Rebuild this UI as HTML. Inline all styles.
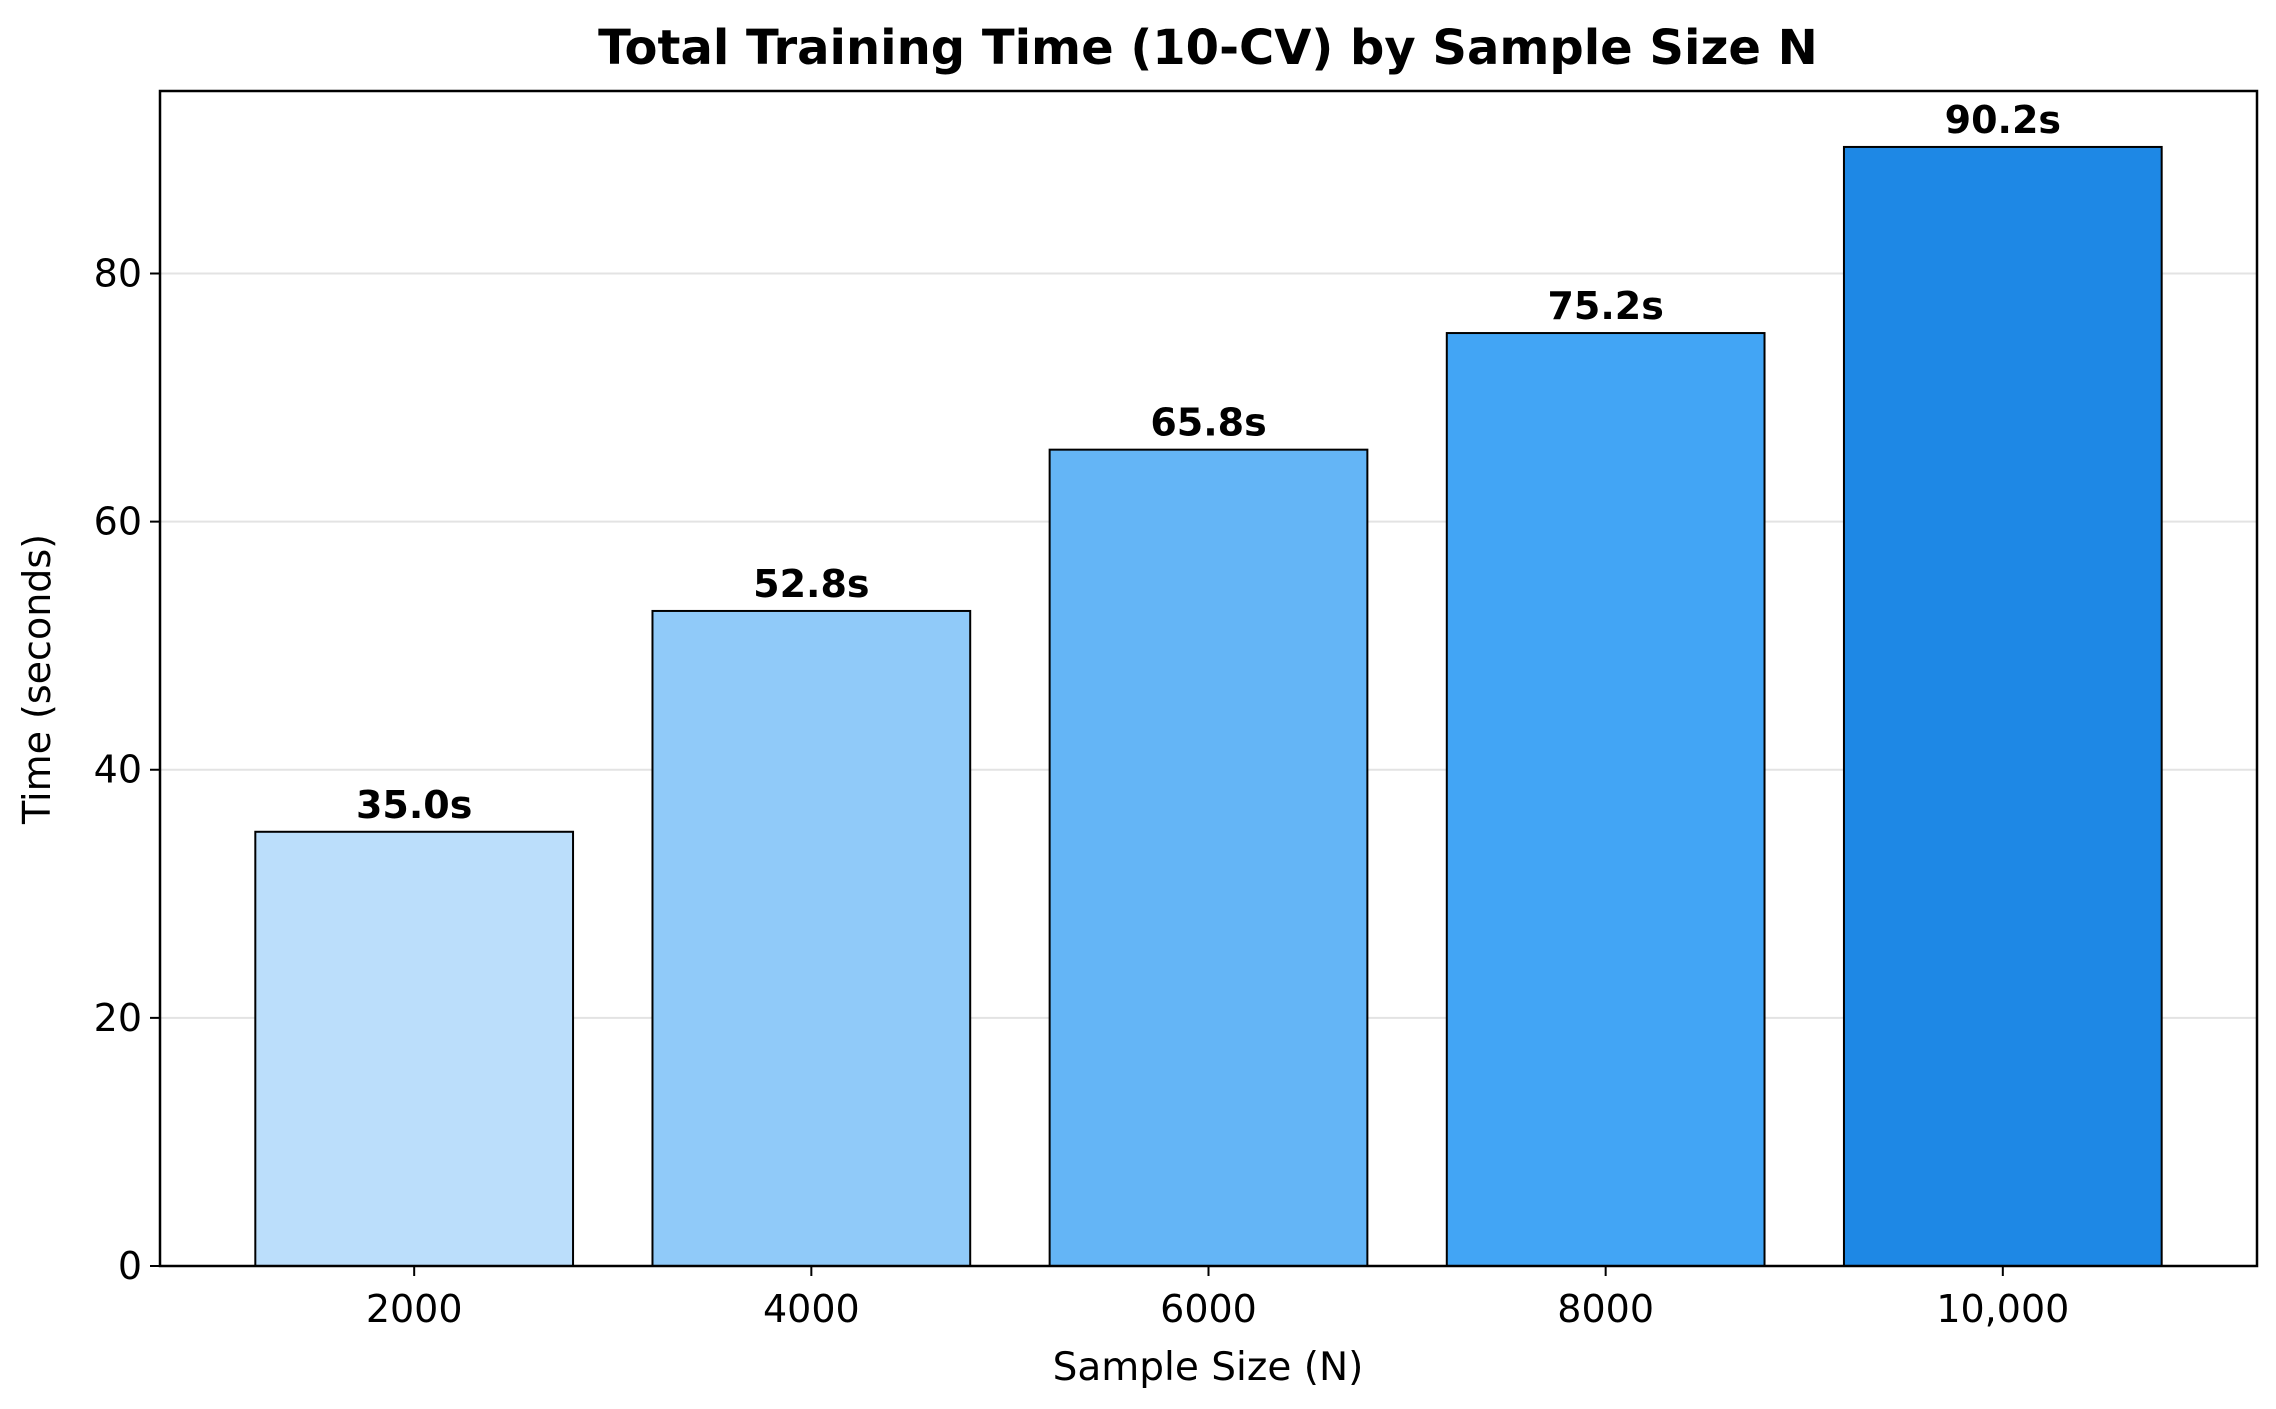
<!DOCTYPE html>
<html><head><meta charset="utf-8"><style>
html,body{margin:0;padding:0;background:#fff;}
svg{display:block;font-family:"DejaVu Sans","Liberation Sans",sans-serif;}
</style></head><body>
<svg id="chart" width="2276" height="1409" viewBox="0 0 2276 1409" xmlns="http://www.w3.org/2000/svg">
<rect width="2276" height="1409" fill="#fff"/>
<text x="1208" y="64" text-anchor="middle" font-size="48" font-weight="bold">Total Training Time (10-CV) by Sample Size N</text>
<g id="grid"></g><g id="bars"></g><g id="axes"></g>
<text transform="translate(50,679) rotate(-90)" text-anchor="middle" font-size="38">Time (seconds)</text>
<text x="1208" y="1380" text-anchor="middle" font-size="39">Sample Size (N)</text>
</svg>
<script>
const categories = ["2000","4000","6000","8000","10,000"];
const values = [35.0, 52.8, 65.8, 75.2, 90.2];
const valueLabels = ["35.0s","52.8s","65.8s","75.2s","90.2s"];
const yTicks = [0,20,40,60,80];
const colors = ["#bbdefb","#90caf9","#64b5f6","#42a5f5","#1e88e5"];

const L=160,R=2257,T=91,B=1266;
const ymax = Math.max(...values)*1.05;
const xmin=-0.64, xmax=categories.length-1+0.64;
function xs(i){return L+(i-xmin)/(xmax-xmin)*(R-L);}
function ys(v){return B-v/ymax*(B-T);}
const NS="http://www.w3.org/2000/svg";
function mk(tag,attrs,parent,text){const e=document.createElementNS(NS,tag);for(const k in attrs)e.setAttribute(k,attrs[k]);if(text!==undefined)e.textContent=text;parent.appendChild(e);return e;}
const grid=document.getElementById('grid'),bars=document.getElementById('bars'),axes=document.getElementById('axes');
const bw=0.8*(xs(1)-xs(0));
yTicks.forEach(t=>{
  const y=ys(t);
  if(t>0){const g=mk('line',{x1:L,x2:R,y1:y,y2:y,stroke:'#e3e3e3','stroke-width':2},grid);
  
  }
  const tk=mk('line',{x1:L-10,x2:L,y1:y,y2:y,stroke:'#000','stroke-width':2},axes);
  
  
  const lb=mk('text',{x:L-18,y:y+13,'text-anchor':'end','font-size':38},axes,String(t));
  
  
});
categories.forEach((c,i)=>{
  const cx=xs(i),y=ys(values[i]);
  const r=mk('rect',{x:cx-bw/2,y:y,width:bw,height:B-y,fill:colors[i],stroke:'#000','stroke-width':2},bars);
  
  
  const vl=mk('text',{x:cx,y:y-14,'text-anchor':'middle','font-size':38,'font-weight':'bold'},bars,valueLabels[i]);
  
  
  const tk=mk('line',{x1:cx,x2:cx,y1:B,y2:B+10,stroke:'#000','stroke-width':2},axes);
  
  
  const lb=mk('text',{x:cx,y:1322,'text-anchor':'middle','font-size':38},axes,c);
  
  
});
const fr=mk('rect',{x:L,y:T,width:R-L,height:B-T,fill:'none',stroke:'#000','stroke-width':2.5},axes);


</script>
</body></html>
